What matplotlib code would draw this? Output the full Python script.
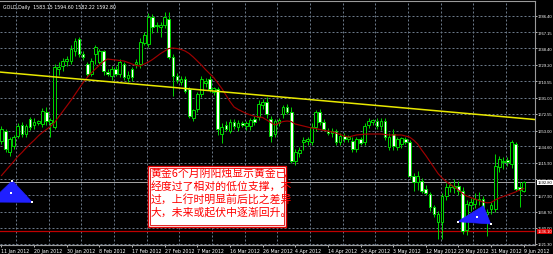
import matplotlib
matplotlib.use("Agg")
import matplotlib.pyplot as plt
from matplotlib.patches import Rectangle, Polygon
import matplotlib.transforms as mtransforms

# ---- daily GOLD candles (open, high, low, close) ----
opens = [1641, 1652, 1628, 1635, 1647, 1660, 1649, 1666, 1659, 1662,
         1661, 1674, 1662, 1657, 1724, 1728, 1734, 1734, 1745, 1759,
         1742, 1730, 1719, 1742, 1733, 1745, 1721, 1716, 1725, 1719,
         1730, 1714, 1724, 1730, 1730, 1755, 1753, 1785, 1776, 1773,
         1776, 1783, 1738, 1716, 1710, 1713, 1701, 1668, 1678, 1695,
         1708, 1713, 1698, 1701, 1649, 1660, 1653, 1663, 1657, 1662,
         1658, 1658, 1666, 1669, 1683, 1686, 1666, 1649, 1662, 1672,
         1680, 1674, 1618, 1627, 1640, 1641, 1640, 1657, 1674, 1663,
         1652, 1650, 1652, 1640, 1647, 1643, 1641, 1632, 1643, 1640,
         1660, 1663, 1664, 1658, 1664, 1634, 1649, 1634, 1637, 1643,
         1640, 1600, 1593, 1594, 1585, 1579, 1564, 1547, 1547, 1577,
         1587, 1586, 1589, 1583, 1537, 1567, 1568, 1572, 1573, 1556,
         1562, 1562, 1611, 1616, 1619, 1614, 1637, 1587, 1583.15]
highs = [1658, 1655, 1646, 1648, 1662, 1663, 1661, 1669, 1668, 1665,
         1679, 1680, 1668, 1730, 1733, 1737, 1740, 1752, 1760, 1762,
         1745, 1733, 1737, 1752, 1748, 1747, 1724, 1728, 1728, 1736,
         1733, 1722, 1727, 1736, 1760, 1768, 1790, 1788, 1779, 1779,
         1791, 1791, 1742, 1720, 1716, 1716, 1704, 1678, 1698, 1716,
         1714, 1716, 1704, 1704, 1662, 1664, 1666, 1666, 1665, 1664,
         1664, 1668, 1670, 1688, 1690, 1692, 1670, 1666, 1668, 1683,
         1684, 1680, 1632, 1634, 1645, 1646, 1662, 1677, 1678, 1666,
         1656, 1656, 1655, 1650, 1650, 1648, 1645, 1646, 1646, 1662,
         1668, 1667, 1668, 1668, 1668, 1650, 1655, 1646, 1646, 1646,
         1642, 1604, 1606, 1598, 1590, 1582, 1567, 1560, 1580, 1592,
         1593, 1597, 1594, 1587, 1572, 1575, 1580, 1582, 1577, 1562,
         1570, 1626, 1624, 1622, 1622, 1642, 1640, 1593, 1594.60]
lows = [1637, 1628, 1624, 1632, 1644, 1646, 1646, 1654, 1655, 1660,
        1657, 1660, 1646, 1655, 1718, 1722, 1728, 1730, 1740, 1738,
        1735, 1715, 1716, 1730, 1730, 1718, 1716, 1712, 1716, 1715,
        1712, 1710, 1711, 1726, 1726, 1752, 1750, 1766, 1768, 1762,
        1772, 1736, 1693, 1708, 1706, 1697, 1668, 1664, 1675, 1692,
        1704, 1698, 1694, 1648, 1638, 1652, 1650, 1655, 1652, 1657,
        1654, 1654, 1660, 1665, 1678, 1668, 1640, 1645, 1658, 1668,
        1672, 1615, 1613, 1622, 1630, 1636, 1636, 1652, 1660, 1652,
        1648, 1646, 1636, 1636, 1640, 1640, 1628, 1628, 1636, 1636,
        1656, 1660, 1655, 1654, 1642, 1630, 1630, 1630, 1633, 1637,
        1598, 1583, 1584, 1580, 1578, 1560, 1553, 1527, 1527, 1572,
        1582, 1580, 1578, 1533, 1532, 1560, 1563, 1566, 1552, 1530,
        1556, 1558, 1605, 1608, 1612, 1610, 1583, 1564, 1582.22]
closes = [1655, 1632, 1643, 1645, 1658, 1649, 1658, 1657, 1663, 1664,
          1676, 1664, 1665, 1727, 1727, 1734, 1736, 1748, 1757, 1742,
          1739, 1719, 1734, 1750, 1745, 1722, 1719, 1724, 1719, 1733,
          1715, 1718, 1715, 1733, 1756, 1764, 1785, 1773, 1774, 1776,
          1785, 1738, 1716, 1712, 1713, 1699, 1670, 1677, 1695, 1713,
          1711, 1701, 1702, 1655, 1657, 1655, 1663, 1658, 1662, 1659,
          1662, 1665, 1663, 1684, 1686, 1672, 1647, 1664, 1665, 1680,
          1674, 1618, 1628, 1630, 1642, 1643, 1657, 1674, 1663, 1655,
          1650, 1652, 1640, 1647, 1643, 1645, 1632, 1643, 1639, 1658,
          1664, 1665, 1658, 1664, 1645, 1646, 1635, 1643, 1644, 1640,
          1600, 1593, 1600, 1583, 1581, 1564, 1556, 1556, 1577, 1588,
          1590, 1589, 1583, 1536, 1568, 1570, 1573, 1574, 1556, 1559,
          1567, 1612, 1620, 1618, 1616, 1640, 1585, 1584, 1592.80]

# moving average line, one value per bar
ma = [1600.8, 1606.3, 1611.8, 1617.1, 1622.9, 1627.5, 1632.7, 1637.4, 1641.8, 1646.7,
      1650.8, 1654.2, 1657.7, 1662.4, 1668.8, 1675.1, 1681.5, 1687.9, 1694.9, 1701.9,
      1708.8, 1714.6, 1719.9, 1724.5, 1729.1, 1733.2, 1736.1, 1735.5, 1735.0, 1734.4,
      1733.8, 1732.1, 1730.3, 1728.6, 1728.0, 1730.3, 1732.6, 1735.5, 1739.0, 1742.5,
      1745.4, 1748.3, 1748.9, 1748.3, 1747.2, 1745.4, 1742.5, 1738.4, 1733.8, 1729.1,
      1723.9, 1719.3, 1714.6, 1708.2, 1701.9, 1694.3, 1686.8, 1680.4, 1677.5, 1675.1,
      1672.8, 1671.1, 1669.7, 1669.0, 1668.2, 1665.3, 1662.4, 1659.5, 1661.8, 1663.5,
      1664.1, 1663.5, 1660.6, 1659.5, 1658.3, 1657.1, 1656.0, 1655.4, 1654.2, 1653.1,
      1652.5, 1651.3, 1650.2, 1648.4, 1646.7, 1645.5, 1646.7, 1647.9, 1648.4, 1648.8,
      1649.0, 1649.0, 1649.0, 1649.0, 1648.4, 1647.9, 1647.9, 1647.9, 1647.9, 1646.7,
      1645.5, 1642.0, 1637.4, 1630.4, 1624.0, 1617.1, 1610.1, 1603.1, 1597.9, 1593.8,
      1590.4, 1587.5, 1584.0, 1579.9, 1577.0, 1575.3, 1573.5, 1571.8, 1570.0, 1569.1,
      1569.5, 1572.4, 1574.7, 1576.4, 1578.2, 1579.9, 1581.7, 1584.0, 1585.7]

# time scale labels (bar index, text)
date_bars = [0, 8, 16, 24, 32, 40, 48, 56, 64, 72, 80, 88, 96, 104, 112, 120, 128]
date_labels = ["11 Jan 2012", "20 Jan 2012", "30 Jan 2012", "8 Feb 2012", "17 Feb 2012",
               "27 Feb 2012", "7 Mar 2012", "16 Mar 2012", "26 Mar 2012", "4 Apr 2012",
               "14 Apr 2012", "24 Apr 2012", "3 May 2012", "12 May 2012", "22 May 2012",
               "31 May 2012", "9 Jun 2012"]

# price scale labels
price_ticks = [1786.40, 1767.15, 1748.40, 1729.20, 1710.55, 1691.00, 1672.55, 1653.00,
               1634.60, 1615.90, 1596.60, 1577.90, 1558.70, 1540.00, 1521.30]

bid_price = 1592.80
level_price = 1536.10

# trend line anchors (bar, price)
trend_bars = [0, 128]
trend_prices = [1720.8, 1667.0]

# triangle objects (bar, price)
tri_left = [(2.65, 1594.8), (7.55, 1569.7), (-2.8, 1570.0)]
tri_left_dots = [(2.65, 1594.8), (7.55, 1569.7), (2.25, 1580.1)]
tri_right = [(111.8, 1547.2), (118.1, 1565.7), (119.9, 1544.5)]
tri_right_dots = [(111.8, 1547.2), (116.5, 1552.3), (119.9, 1544.5)]

note_lines = ["黄金6个月阴阳烛显示黄金已",
              "经度过了相对的低位支撑，不",
              "过，上行时明显前后比之差异",
              "大，未来或起伏中逐渐回升。"]
header = "GOLD,Daily  1583.15 1594.60 1582.22 1592.80"

# ---- figure ----
W, H, DPI = 553, 255, 100
fig = plt.figure(figsize=(W / DPI, H / DPI), dpi=DPI, facecolor="black")
ax = fig.add_axes([0, 9 / H, 535 / W, 244 / H])
ax.set_facecolor("black")

bar_px = 4.08
ax.set_xlim(-1.5 / bar_px, (535 - 1.5) / bar_px)
ax.set_ylim(1520.1, 1803.5)

grid_col = "#6a7888"
px = 0.72  # one pixel in points
small = 3.4
scale_font = 3.0
scale_family = ["Liberation Sans", "DejaVu Sans"]
for p in price_ticks:
    ax.axhline(p, color=grid_col, lw=px, ls=(0, (2, 2)), zorder=0)
# vertical grid sits halfway between the time labels
for b in date_bars + [date_bars[-1] + 8]:
    ax.axvline(b - 4.4, color=grid_col, lw=px, ls=(0, (2, 2)), zorder=0)

up_col = "#00d000"
for i, (o, h, l, c) in enumerate(zip(opens, highs, lows, closes)):
    ax.plot([i, i], [l, h], color=up_col, lw=px, zorder=2, solid_capstyle="butt")
    bottom = min(o, c)
    height = max(abs(c - o), 0.6)
    face = "white" if c < o else "black"
    ax.add_patch(Rectangle((i - 0.33, bottom), 0.66, height, facecolor=face,
                           edgecolor=up_col, lw=px, zorder=3))

ax.plot(range(len(ma)), ma, color="#a00000", lw=0.85, zorder=4)

# trend line extended across the chart
slope = (trend_prices[1] - trend_prices[0]) / (trend_bars[1] - trend_bars[0])
x0, x1 = ax.get_xlim()
ax.plot([x0, x1], [trend_prices[0] + slope * (x0 - trend_bars[0]),
                   trend_prices[0] + slope * (x1 - trend_bars[0])],
        color="#e8e800", lw=1.1, zorder=5)

ax.axhline(bid_price, color="#a0a0a0", lw=px, zorder=1)
ax.axhline(level_price, color="#c00000", lw=0.9, zorder=1)

for tri, dots in ((tri_left, tri_left_dots), (tri_right, tri_right_dots)):
    ax.add_patch(Polygon(tri, closed=True, facecolor="#2020ff", edgecolor="#2020ff",
                         lw=0.5, zorder=6))
    ax.scatter([d[0] for d in dots], [d[1] for d in dots], s=3, c="white",
               marker="s", zorder=7, linewidths=0)

# note box
ax.add_patch(Rectangle((35.9, 1541.0), 33.8, 70.8, facecolor="white",
                       edgecolor="#e00000", lw=1.0, zorder=8))
ax.add_patch(Rectangle((36.4, 1543.3), 32.8, 66.2, facecolor="none",
                       edgecolor="#e00000", lw=0.6, zorder=8))
for k, line in enumerate(note_lines):
    ax.text(36.6, 1604.0 - k * 14.8, line, color="#ff0000", fontsize=7.8,
            family=["Noto Sans CJK SC", "DejaVu Sans"], va="center", ha="left",
            zorder=9)

ax.text(0.006, 0.988, header, transform=ax.transAxes, color="white",
        fontsize=small, va="top", ha="left", zorder=10)

# frame
for side in ("top", "bottom", "right"):
    ax.spines[side].set_color("#9a9a9a")
    ax.spines[side].set_linewidth(0.8)
ax.spines["left"].set_visible(False)

# price scale on the right
ax.yaxis.tick_right()
ax.set_yticks(price_ticks)
ax.set_yticklabels([f"{p:.2f}" for p in price_ticks], family=scale_family)
ax.tick_params(axis="y", colors="white", labelsize=scale_font, length=1.2, width=0.5,
               pad=0.5)

blend = mtransforms.blended_transform_factory(ax.transAxes, ax.transData)
ax.text(1.0045, bid_price, f"{bid_price:.2f}", transform=blend, family=scale_family,
        color="black", fontsize=scale_font, va="center", ha="left", zorder=12,
        clip_on=False,
        bbox=dict(boxstyle="square,pad=0.1", facecolor="white", edgecolor="none"))
ax.text(1.0045, level_price, f"{level_price:.2f}", transform=blend, family=scale_family,
        color="white", fontsize=scale_font, va="center", ha="left", zorder=12,
        clip_on=False,
        bbox=dict(boxstyle="square,pad=0.1", facecolor="#e00000", edgecolor="none"))

# time scale
ax.set_xticks(date_bars)
ax.set_xticklabels(date_labels)
shift = mtransforms.ScaledTranslation(-1.5 / DPI, 0, fig.dpi_scale_trans)
for lbl in ax.get_xticklabels():
    lbl.set_horizontalalignment("left")
    lbl.set_transform(lbl.get_transform() + shift)
ax.tick_params(axis="x", colors="white", labelsize=small, length=1.5, width=0.5, pad=0.8)

fig.savefig("out.png", dpi=DPI, facecolor="black")
